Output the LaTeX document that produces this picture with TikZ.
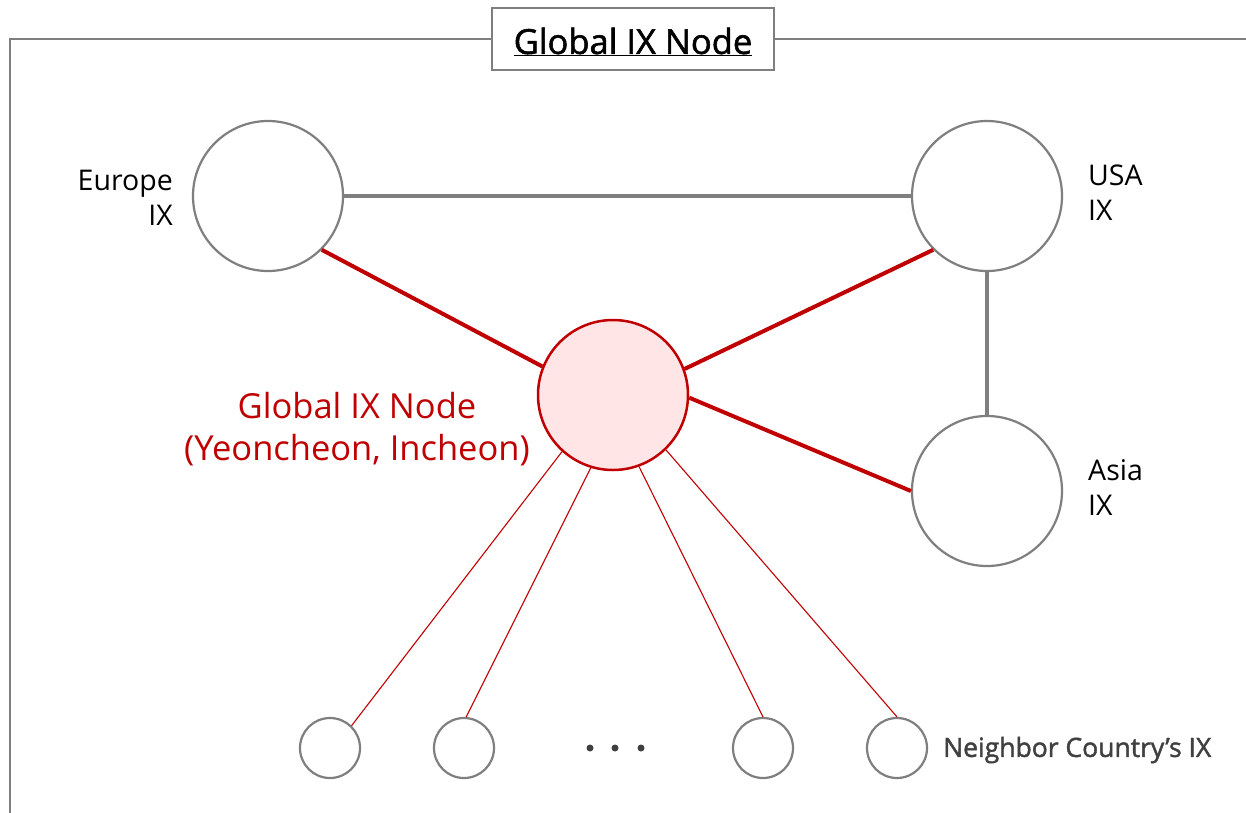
\documentclass[tikz,border=0pt]{standalone}
\usepackage{fontspec}
\setmainfont{Open Sans}
\newfontfamily\medfont[FakeBold=1.6]{Open Sans}
\definecolor{gline}{HTML}{7F7F7F}
\definecolor{rline}{HTML}{C00000}
\definecolor{rfill}{HTML}{FFE5E6}
\definecolor{dtext}{HTML}{404040}
\begin{document}
\begin{tikzpicture}[x=1pt,y=-1pt,
  bigc/.style={circle,draw=gline,line width=2.2pt,minimum size=150pt,inner sep=0pt,fill=white},
  smallc/.style={circle,draw=gline,line width=2.2pt,minimum size=60pt,inner sep=0pt,fill=white},
  globc/.style={circle,draw=rline,line width=2.5pt,minimum size=150pt,inner sep=0pt,fill=rfill},
  gedge/.style={gline,line width=4pt},
  redge/.style={rline,line width=4pt},
  tedge/.style={rline,line width=1.1pt},
  lbl/.style={font=\fontsize{28.5}{35}\selectfont,text=black,inner sep=0pt},
  dotc/.style={circle,fill=dtext,inner sep=0pt,minimum size=7pt}]
\useasboundingbox (0,0) rectangle (1246,812);
% frame
\draw[gline,line width=2.5pt] (10,814) -- (10,39) -- (1248,39);
\node[draw=gline,line width=2pt,fill=white,minimum width=282pt,minimum height=62pt,inner sep=0pt] (title) at (633,39) {};
\node[font=\medfont\fontsize{34.5}{38}\selectfont,inner sep=0pt] (titletext) at (633,42) {\underline{Global IX Node}};
% circles
\node[bigc] (eu) at (268,196) {};
\node[bigc] (us) at (987,196) {};
\node[bigc] (as) at (987,491) {};
\node[globc] (gl) at (613,395) {};
\node[smallc] (n1) at (330,748) {};
\node[smallc] (n2) at (464,748) {};
\node[smallc] (n3) at (763,748) {};
\node[smallc] (n4) at (897,748) {};
% edges
\draw[gedge] (eu.east) -- (us.west);
\draw[gedge] (us.south) -- (as.north);
\draw[redge] (eu.-45) -- (gl.158);
\draw[redge] (us.225) -- (gl.20);
\draw[redge] (gl.-2) -- (as.180);
\draw[tedge] (gl.228) -- (n1.46);
\draw[tedge] (gl.253) -- (n2.86);
\draw[tedge] (gl.290) -- (n3.90);
\draw[tedge] (gl.314) -- (n4.90);
% labels
\node[lbl,anchor=east,align=right] (eul) at (173,198) {Europe\\IX};
\node[lbl,anchor=west,align=left] (usl) at (1088,193) {USA\\IX};
\node[lbl,anchor=west,align=left] (asl) at (1088,488) {Asia\\IX};
\node[font=\fontsize{34.5}{42}\selectfont,text=rline,align=center,inner sep=0pt] (gll) at (357,429) {Global IX Node\\(Yeoncheon, Incheon)};
\node[font=\medfont\fontsize{26.5}{28}\selectfont,text=dtext,anchor=west,inner sep=0pt] (nbl) at (943,750) {Neighbor Country’s IX};
% dots
\node[dotc] (d1) at (590,748) {};
\node[dotc] (d2) at (615,748) {};
\node[dotc] (d3) at (641,748) {};
\end{tikzpicture}
\end{document}
